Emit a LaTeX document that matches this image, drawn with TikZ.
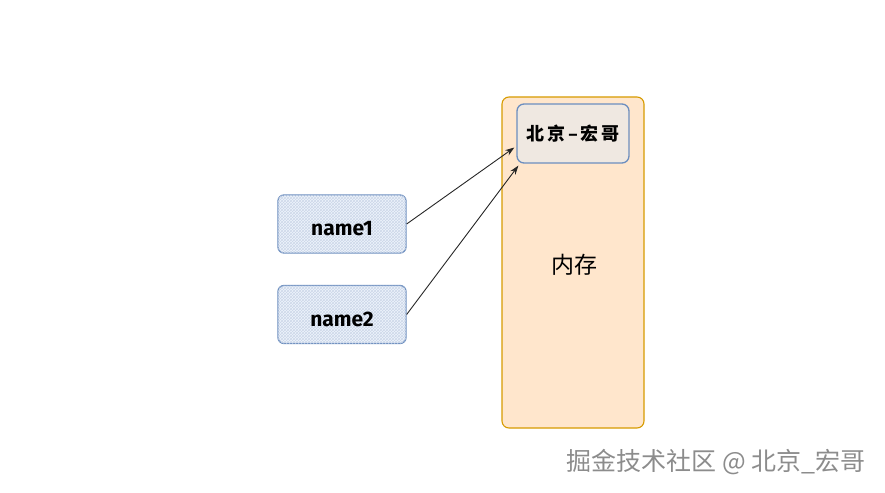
\documentclass[tikz,border=0pt]{standalone}
\usepackage{fontspec}
\setmainfont{Fira Sans}
\newfontfamily\cjk{Noto Sans CJK SC}
\usetikzlibrary{arrows.meta,patterns}
\definecolor{memfill}{HTML}{FFE6CC}
\definecolor{memline}{HTML}{D79B00}
\definecolor{boxline}{HTML}{6C8EBF}
\definecolor{boxfill}{HTML}{EEF4FC}
\definecolor{valfill}{HTML}{EFE8E1}
\tikzset{
  >={Stealth[length=3.2mm,width=2.2mm]},
  mem/.style={draw=memline,fill=memfill,rounded corners=7pt,line width=1.1pt,minimum width=142pt,minimum height=331pt,inner sep=0pt},
  val/.style={draw=boxline,fill=valfill,rounded corners=7pt,line width=1.3pt,minimum width=112pt,minimum height=59pt,inner sep=0pt,font=\cjk\bfseries\fontsize{18}{22}\selectfont},
  ref/.style={draw=boxline,fill=boxfill,postaction={pattern=crosshatch,pattern color=boxline!35},rounded corners=6pt,line width=1.3pt,minimum width=128pt,minimum height=58pt,inner sep=0pt,text height=23pt,text depth=0pt,font=\bfseries\fontsize{21}{24}\selectfont},
  every picture/.style={line width=0.9pt},
}
\begin{document}
\begin{tikzpicture}[x=1pt,y=-1pt]
\useasboundingbox (0,0) rectangle (885,492);
\node[mem] (M) at (573,262.5){};
\node[font=\cjk\fontsize{23}{26}\selectfont] (L) at (574,265){内存};
\node[val] (V) at (573,133.5){北\hspace{3pt}京\hspace{3pt}–\hspace{3pt}宏\hspace{3pt}哥};
\node[ref] (A) at (342,224){name1};
\node[ref] (B) at (342,314.5){name2};
\draw[->,black!85] (A.east) -- ([xshift=-2pt,yshift=-14pt]V.west);
\draw[->,black!85] (B.east) -- ([xshift=2pt,yshift=-2pt]V.south west);
\node[font=\cjk\fontsize{25}{28}\selectfont,text=black!45,anchor=east] (W) at (869,462){掘金技术社区 @ 北京\_宏哥};
\end{tikzpicture}
\end{document}
